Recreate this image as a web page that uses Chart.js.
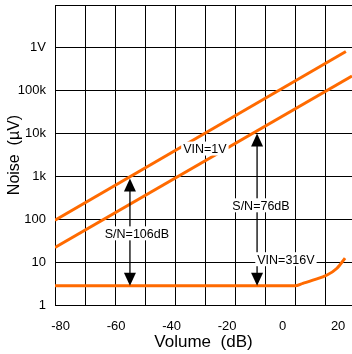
<!DOCTYPE html>
<html lang="en">
<head>
    <meta charset="UTF-8">
    <title>Noise vs Volume</title>
    <script src="https://cdn.jsdelivr.net/npm/chart.js"></script>
    <style>
        html, body {
            margin: 0;
            padding: 0;
            background: #fff;
        }
        canvas {
            display: block;
        }
    </style>
</head>
<body>
    <canvas id="noiseChart" width="352" height="354"></canvas>

    <script>
        // volume in dB, noise in uV
        const volTicks = [-80, -60, -40, -20, 0, 20];
        const noiseTicks = [1, 10, 100, 1e3, 1e4, 1e5, 1e6];
        const noiseTickLabels = ['1', '10', '100', '1k', '10k', '100k', '1V'];

        const upperVol = [-82, 22.8];
        const upperNoise = [95, 8.2e5];
        const lowerVol = [-82, 25];
        const lowerNoise = [22, 2.2e5];
        const floorVol = [-82, 4.5, 7.3, 10.9, 16.0, 19.6, 22.5];
        const floorNoise = [2.8, 2.8, 3.2, 3.8, 5.0, 7.2, 12.4];

        const arrowVol = [-55, -9.2];
        const arrowTop = [895, 1.0e4];
        const arrowBottom = [2.8, 2.8];

        const noteText = ['VIN=1V', 'S/N=106dB', 'S/N=76dB', 'VIN=316V'];
        const noteVol = [-28, -52.5, -7.8, 1.2];
        const noteNoise = [4470, 47, 212, 11.7];

        const FONT = "'Liberation Sans', Arial, sans-serif";
        const ORANGE = '#ff6a00';

        const pts = (xs, ys) => xs.map((x, i) => ({ x: x, y: ys[i] }));

        const notesPlugin = {
            id: 'notes',
            afterDatasetsDraw(chart) {
                const ctx = chart.ctx;
                const xs = chart.scales.x;
                const ys = chart.scales.y;
                ctx.save();
                ctx.strokeStyle = '#000';
                ctx.fillStyle = '#000';
                ctx.lineWidth = 1.3;
                arrowVol.forEach((v, i) => {
                    const px = xs.getPixelForValue(v);
                    const top = ys.getPixelForValue(arrowTop[i]);
                    const bot = ys.getPixelForValue(arrowBottom[i]);
                    ctx.beginPath();
                    ctx.moveTo(px, top + 12);
                    ctx.lineTo(px, bot - 12);
                    ctx.stroke();
                    ctx.beginPath();
                    ctx.moveTo(px, top);
                    ctx.lineTo(px - 6, top + 13);
                    ctx.lineTo(px + 6, top + 13);
                    ctx.closePath();
                    ctx.fill();
                    ctx.beginPath();
                    ctx.moveTo(px, bot);
                    ctx.lineTo(px - 6, bot - 13);
                    ctx.lineTo(px + 6, bot - 13);
                    ctx.closePath();
                    ctx.fill();
                });
                ctx.font = '12.5px ' + FONT;
                ctx.textAlign = 'center';
                ctx.textBaseline = 'middle';
                noteText.forEach((t, i) => {
                    const px = xs.getPixelForValue(noteVol[i]);
                    const py = ys.getPixelForValue(noteNoise[i]);
                    const w = ctx.measureText(t).width;
                    ctx.fillStyle = '#fff';
                    ctx.fillRect(px - w / 2 - 2, py - 7, w + 4, 14);
                    ctx.fillStyle = '#000';
                    ctx.fillText(t, px, py + 1);
                });
                ctx.restore();
            }
        };

        const ctx = document.getElementById('noiseChart').getContext('2d');

        new Chart(ctx, {
            type: 'line',
            data: {
                datasets: [
                    { data: pts(upperVol, upperNoise), borderColor: ORANGE, borderWidth: 3, pointRadius: 0, xAxisID: 'x' },
                    { data: pts(lowerVol, lowerNoise), borderColor: ORANGE, borderWidth: 3, pointRadius: 0, xAxisID: 'x' },
                    { data: pts(floorVol, floorNoise), borderColor: ORANGE, borderWidth: 3, pointRadius: 0, xAxisID: 'x', cubicInterpolationMode: 'monotone' }
                ]
            },
            options: {
                responsive: false,
                animation: false,
                layout: { padding: { top: 5, left: 0, right: 0, bottom: 0 } },
                plugins: {
                    legend: { display: false },
                    tooltip: { enabled: false }
                },
                scales: {
                    x: {
                        type: 'linear',
                        position: 'bottom',
                        min: -82,
                        max: 25,
                        grid: { display: false },
                        border: { display: true, color: '#000', width: 1 },
                        ticks: { color: '#000', font: { family: FONT, size: 13 }, padding: 6, maxRotation: 0 },
                        afterBuildTicks: s => { s.ticks = volTicks.map(v => ({ value: v })); },
                        afterFit: s => { s.height = 49; s.paddingLeft = 0; s.paddingRight = 0; },
                        title: { display: true, text: 'Volume  (dB)', color: '#000', font: { family: FONT, size: 17 }, padding: { top: 0, bottom: 1 } }
                    },
                    xg: {
                        type: 'linear',
                        position: 'top',
                        min: 0,
                        max: 9.9,
                        grid: { color: '#000', lineWidth: 1, drawTicks: false },
                        border: { display: true, color: '#000', width: 1 },
                        ticks: { display: false },
                        afterBuildTicks: s => {
                            const t = [];
                            for (let i = 0; i < 10; i++) t.push({ value: i });
                            s.ticks = t;
                        },
                        afterFit: s => { s.height = 0; s.paddingLeft = 0; s.paddingRight = 0; }
                    },
                    y: {
                        type: 'logarithmic',
                        min: 1,
                        max: 1e7,
                        grid: { color: '#000', lineWidth: 1, drawTicks: false },
                        border: { display: true, color: '#000', width: 1 },
                        ticks: {
                            color: '#000',
                            font: { family: FONT, size: 13 },
                            padding: 9,
                            callback: (v, i) => noiseTickLabels[i]
                        },
                        afterBuildTicks: s => { s.ticks = noiseTicks.map(v => ({ value: v })); },
                        afterFit: s => { s.width = 55; s.paddingTop = 0; s.paddingBottom = 0; },
                        title: { display: true, text: 'Noise  (µV)', color: '#000', font: { family: FONT, size: 16 }, padding: { top: 4.5, bottom: 0 } }
                    }
                }
            },
            plugins: [notesPlugin]
        });
    </script>
</body>
</html>
